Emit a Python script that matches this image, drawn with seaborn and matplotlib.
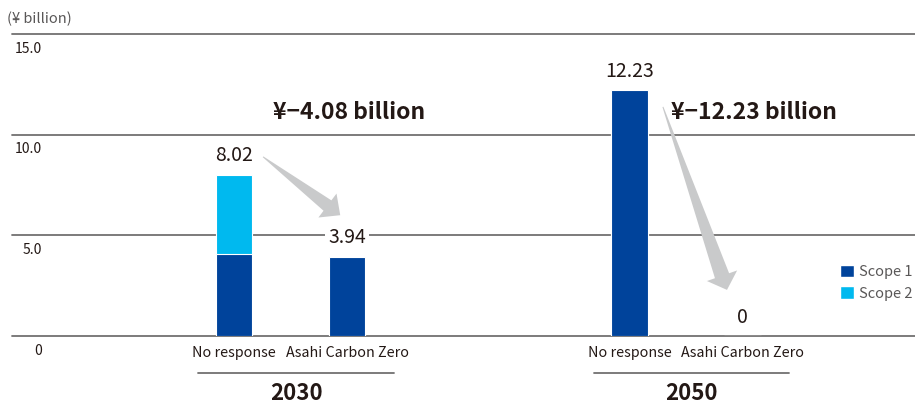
import numpy as np
import pandas as pd
import matplotlib
matplotlib.use("Agg")
import matplotlib.pyplot as plt
import matplotlib.transforms as mtransforms
from matplotlib.patches import Polygon, Patch
import seaborn as sns

# ---------------- data ----------------
years = ["2030", "2050"]
scenarios = ["No response", "Asahi Carbon Zero"]
scope1 = [4.08, 3.94, 12.23, 0.0]
scope2 = [3.94, 0.0, 0.0, 0.0]
value_labels = ["8.02", "3.94", "12.23", "0"]
reduction_labels = ["¥\u22124.08 billion", "¥\u221212.23 billion"]
y_ticks = [0, 5, 10, 15]
y_tick_labels = ["0", "5.0", "10.0", "15.0"]
unit_label = "(¥ billion)"
legend_labels = ["Scope 1", "Scope 2"]

# ---------------- style ----------------
sns.set_theme(style="white")
plt.rcParams["font.family"] = ["Noto Sans CJK JP", "DejaVu Sans"]

DARK = "#00439b"
LIGHT = "#00b9ef"
GRID = "#727171"
TEXT = "#231815"
GREY_TEXT = "#595757"
ARROW = "#c9cacb"

GROUP_GAP = 3.5
rows = []
for gi, yr in enumerate(years):
    for si, sc in enumerate(scenarios):
        k = gi * 2 + si
        rows.append(dict(year=yr, scenario=sc, pos=gi * GROUP_GAP + si,
                         scope1=scope1[k], total=scope1[k] + scope2[k],
                         label=value_labels[k]))
df = pd.DataFrame(rows)

W, H = 915, 405
fig = plt.figure(figsize=(W / 100, H / 100), dpi=100)
ax = fig.add_axes([12 / W, 69 / H, 903 / W, 302 / H])

sns.barplot(data=df, x="pos", y="total", native_scale=True, orient="x",
            width=0.32, color=LIGHT, saturation=1, errorbar=None,
            edgecolor="white", linewidth=0.8, ax=ax, zorder=3)
sns.barplot(data=df, x="pos", y="scope1", native_scale=True, orient="x",
            width=0.32, color=DARK, saturation=1, errorbar=None,
            edgecolor="white", linewidth=0.8, ax=ax, zorder=4)

ax.set_xlim(-1.965, 6.027)
ax.set_ylim(0, 15)
for s in ax.spines.values():
    s.set_visible(False)
ax.set_xticks([])
ax.set_yticks([])
ax.set_xlabel("")
ax.set_ylabel("")
ax.patch.set_alpha(0)

# grid lines + tick labels (below lines)
for v, lab in zip(y_ticks, y_tick_labels):
    ax.axhline(v, color=GRID, lw=1.3, zorder=1, clip_on=False)
    ax.annotate(lab, xy=(0, v), xycoords=("figure pixels", "data"),
                xytext=(42 / 100 * 72, -13.5), textcoords="offset points",
                ha="right", va="baseline", fontsize=10, color=TEXT,
                annotation_clip=False)

fig.text(7 / W, 1 - 23 / H, unit_label, fontsize=10.5, color=GREY_TEXT,
         ha="left", va="baseline")

# value labels
for _, r in df.iterrows():
    ax.annotate(r["label"], xy=(r["pos"], r["total"]), xytext=(0, 9.5),
                textcoords="offset points", ha="center", va="baseline",
                fontsize=14, color=TEXT, zorder=5,
                bbox=dict(boxstyle="square,pad=0.15", fc="white", ec="none"))

# category labels, group lines, year labels
trans = mtransforms.blended_transform_factory(ax.transData, fig.transFigure)
for gi, yr in enumerate(years):
    sub = df[df["year"] == yr]
    for _, r in sub.iterrows():
        ax.annotate(r["scenario"], xy=(r["pos"], 0), xytext=(0, -15.3),
                    textcoords="offset points", ha="center", va="baseline",
                    fontsize=10.3, color=TEXT, annotation_clip=False)
    c = sub["pos"].mean() + 0.05
    ax.plot([c - 0.865, c + 0.865], [1 - 373 / H] * 2, transform=trans,
            color=GRID, lw=1.3, clip_on=False)
    ax.text(c, 1 - 404.5 / H, yr, transform=trans, fontsize=16,
            fontweight="bold", color=TEXT, ha="center", va="bottom",
            clip_on=False)

# reduction annotations
red_pos = [(1.02, 11.1), (4.6, 11.1)]
for (x, y), lab in zip(red_pos, reduction_labels):
    ax.text(x, y, lab, fontsize=16.5, fontweight="bold", color=TEXT,
            ha="center", va="center", zorder=6)

# block arrows (drawn in display pixels)
arrows = [((0.257, 8.9), (0.94, 6.0), 13, 30, 16),
          ((3.796, 11.38), (4.363, 2.29), 15, 32, 15)]
for (s, t, wb, wh, hl) in arrows:
    S = ax.transData.transform(s)
    T = ax.transData.transform(t)
    d = T - S
    L = np.hypot(*d)
    u = d / L
    p = np.array([-u[1], u[0]])
    B = T - u * hl
    pts = [S + p * 0.5, B + p * wb / 2, B + p * wh / 2, T,
           B - p * wh / 2, B - p * wb / 2, S - p * 0.5]
    poly = Polygon(pts, closed=True, transform=None, fc=ARROW, ec="none",
                   zorder=7)
    fig.patches.append(poly)
    poly.set_figure(fig)

# legend
handles = [Patch(facecolor=DARK), Patch(facecolor=LIGHT)]
leg = fig.legend(handles, legend_labels, loc="upper left",
                 bbox_to_anchor=(834 / W, 1 - 259 / H), frameon=False,
                 handlelength=0.95, handleheight=0.95, handletextpad=0.35,
                 labelspacing=0.5, fontsize=10.5, borderaxespad=0)
for t in leg.get_texts():
    t.set_color(GREY_TEXT)

fig.savefig("out.png", dpi=100)
